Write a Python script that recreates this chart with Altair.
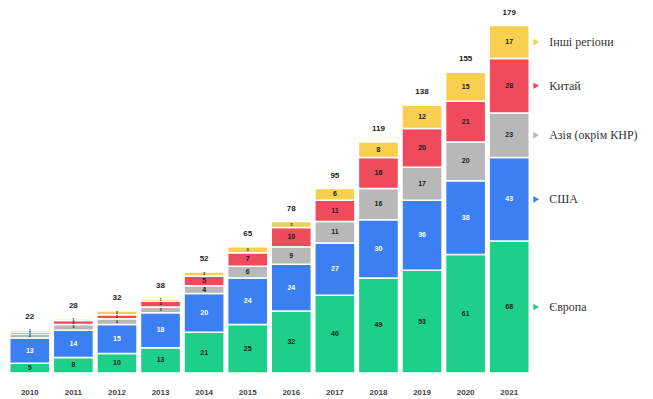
import altair as alt
import pandas as pd

years = [2010, 2011, 2012, 2013, 2014, 2015, 2016, 2017, 2018, 2019, 2020, 2021]
series = ["Європа", "США", "Азія (окрім КНР)", "Китай", "Інші регіони"]
europe = [5, 8, 10, 13, 21, 25, 32, 40, 49, 53, 61, 68]
usa = [13, 14, 15, 18, 20, 24, 24, 27, 30, 36, 38, 43]
asia = [2, 3, 3, 3, 4, 6, 9, 11, 16, 17, 20, 23]
china = [1, 2, 2, 3, 5, 7, 10, 11, 16, 20, 21, 28]
other = [1, 1, 2, 1, 2, 3, 3, 6, 8, 12, 15, 17]
colors = ["#1ecf8a", "#3b7ff2", "#b8b8b8", "#ef4b5c", "#f8cf4f"]
text_colors = ["#1a1a1a", "#ffffff", "#1a1a1a", "#1a1a1a", "#1a1a1a"]

rows = []
for i, (name, vals) in enumerate(zip(series, [europe, usa, asia, china, other])):
    for y, v in zip(years, vals):
        rows.append({"year": y, "series": name, "value": v, "ord": i, "tc": text_colors[i]})
df = pd.DataFrame(rows)

xenc = alt.X("year:O", title=None,
             scale=alt.Scale(paddingInner=0.08, paddingOuter=0.04),
             axis=alt.Axis(labelAngle=0, ticks=False, domain=False, labelFontSize=8,
                           labelFontWeight="bold", labelColor="#444", labelPadding=15,
                           labelFont="Arial"))
yscale = alt.Scale(domain=[0, 186], nice=False)

base = alt.Chart(df).transform_stack(
    stack="value", groupby=["year"], as_=["y0", "y1"], sort=[alt.SortField("ord")]
).transform_calculate(mid="(datum.y0 + datum.y1) / 2")

bars = base.mark_bar(stroke="white", strokeWidth=1.5).encode(
    x=xenc,
    y=alt.Y("y0:Q", scale=yscale, axis=None),
    y2="y1:Q",
    color=alt.Color("series:N", scale=alt.Scale(domain=series, range=colors), legend=None),
)

seg_big = base.transform_filter("datum.value >= 4").mark_text(
    fontSize=7, fontWeight="bold", font="Arial").encode(
    x=xenc,
    y=alt.Y("mid:Q", scale=yscale, axis=None),
    text="value:Q",
    color=alt.Color("tc:N", scale=None),
)
seg_small = base.transform_filter("datum.value < 4").mark_text(
    fontSize=4, fontWeight="bold", font="Arial").encode(
    x=xenc,
    y=alt.Y("mid:Q", scale=yscale, axis=None),
    text="value:Q",
    color=alt.Color("tc:N", scale=None),
)

totals = alt.Chart(df).transform_aggregate(
    total="sum(value)", groupby=["year"]
).mark_text(fontSize=8, fontWeight="bold", font="Arial", dy=-13, color="#222").encode(
    x=xenc,
    y=alt.Y("total:Q", scale=yscale, axis=None),
    text="total:Q",
)

leg_base = base.transform_filter("datum.year == 2021")
tri = leg_base.mark_point(shape="triangle-right", filled=True, size=45, xOffset=27, opacity=1).encode(
    x=xenc,
    y=alt.Y("mid:Q", scale=yscale, axis=None),
    color=alt.Color("series:N", scale=alt.Scale(domain=series, range=colors), legend=None),
)
leg_text = leg_base.mark_text(align="left", dx=40, fontSize=12, font="Liberation Serif", color="#333").encode(
    x=xenc,
    y=alt.Y("mid:Q", scale=yscale, axis=None),
    text="series:N",
)

chart = alt.layer(bars, seg_big, seg_small, totals, tri, leg_text).properties(
    width=523, height=361, padding={"left": 0, "top": 0, "right": 5, "bottom": 0},
    background="white",
).configure_view(stroke=None)

chart.save("out.html", embed_options={"renderer": "svg", "actions": False})
